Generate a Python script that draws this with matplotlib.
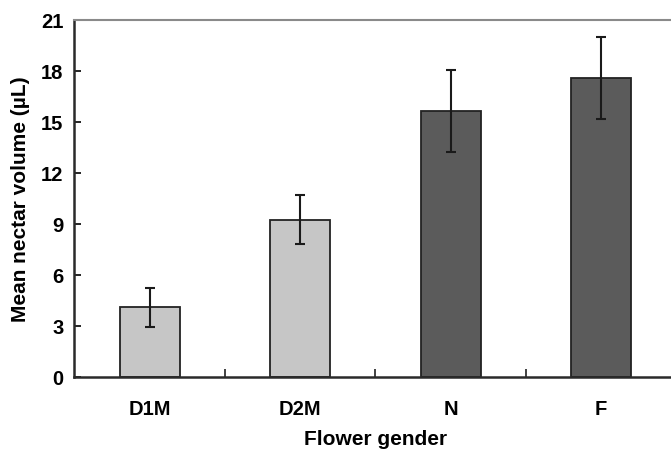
import numpy as np
import matplotlib
matplotlib.use('Agg')
from matplotlib import pyplot as plt

categories = ['D1M', 'D2M', 'N', 'F']
means = [4.08, 9.24, 15.63, 17.57]
errors = [1.16, 1.45, 2.41, 2.43]
colors = ['#c6c6c6', '#c6c6c6', '#5b5b5b', '#5b5b5b']

plt.rcParams['font.family'] = ['Liberation Sans', 'DejaVu Sans']
plt.rcParams['font.weight'] = 'bold'

fig = plt.figure(figsize=(6.71, 4.52), dpi=100)
ax = fig.add_axes([0.111, 0.1644, 0.897, 0.7902])

x = np.arange(len(categories))
ax.bar(x, means, width=0.4, color=colors, edgecolor='#222222', linewidth=1.3,
       yerr=errors, capsize=3.5,
       error_kw=dict(ecolor='#1a1a1a', elinewidth=1.5, capthick=1.5))

ax.set_xlim(-0.5, 3.5)
ax.set_ylim(0, 21)
ax.set_yticks(np.arange(0, 22, 3))
ax.set_xticks(x)
ax.set_xticklabels(categories)
# boundary ticks between categories
ax.set_xticks(x[:-1] + 0.5, minor=True)
ax.tick_params(axis='x', which='major', length=0, pad=16, labelsize=14.5)
ax.tick_params(axis='x', which='minor', direction='in', length=6, width=1.3, color='#333333')
ax.tick_params(axis='y', direction='in', length=5, width=1.2, pad=8, labelsize=14.5)

ax.spines['left'].set_linewidth(1.8)
ax.spines['left'].set_color('#2a2a2a')
ax.spines['bottom'].set_linewidth(1.8)
ax.spines['bottom'].set_color('#2a2a2a')
ax.spines['top'].set_color('#8a8a8a')
ax.spines['top'].set_linewidth(1.5)
ax.spines['right'].set_visible(False)

ax.set_ylabel('Mean nectar volume (µL)', fontsize=15, fontweight='bold', labelpad=8)
ax.set_xlabel('Flower gender', fontsize=15, fontweight='bold', labelpad=8)

plt.savefig('out.png', dpi=100)
